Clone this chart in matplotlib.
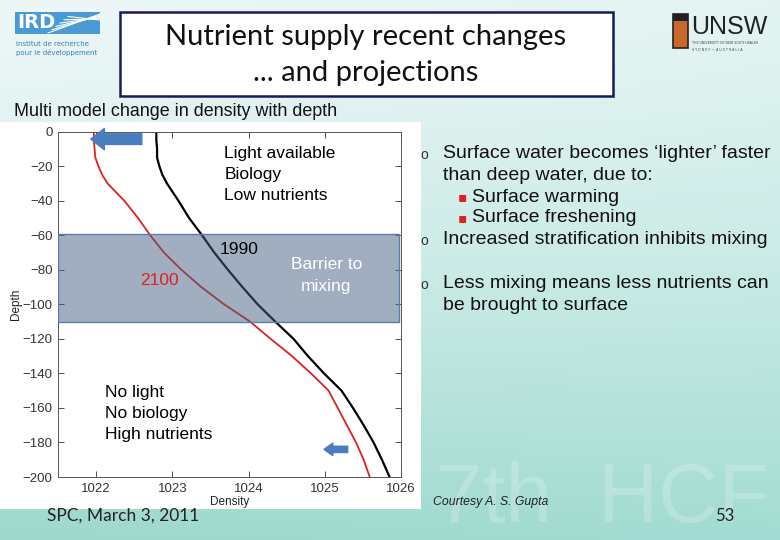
import numpy as np
import matplotlib
matplotlib.use("Agg")
import matplotlib.pyplot as plt
from matplotlib.patches import Rectangle

# ---------------- data ----------------
depth = [0, -5, -10, -15, -20, -25, -30, -40, -50, -60, -70, -80, -90, -100,
         -110, -120, -130, -140, -150, -160, -170, -180, -190, -200]
density_1990 = [1022.79, 1022.79, 1022.80, 1022.80, 1022.83, 1022.87, 1022.93,
                1023.08, 1023.22, 1023.39, 1023.55, 1023.73, 1023.92, 1024.12,
                1024.35, 1024.59, 1024.78, 1024.99, 1025.22, 1025.37, 1025.51,
                1025.64, 1025.75, 1025.85]
density_2100 = [1021.97, 1021.97, 1021.98, 1021.99, 1022.03, 1022.08, 1022.15,
                1022.37, 1022.55, 1022.71, 1022.89, 1023.12, 1023.38, 1023.68,
                1024.02, 1024.29, 1024.57, 1024.82, 1025.05, 1025.17, 1025.29,
                1025.41, 1025.51, 1025.59]
barrier_top, barrier_bottom = -59, -110
x_ticks = [1022, 1023, 1024, 1025, 1026]
y_ticks = [0, -20, -40, -60, -80, -100, -120, -140, -160, -180, -200]

title_lines = ["Nutrient supply recent changes", "... and projections"]
subtitle = "Multi model change in density with depth"
upper_lines = ["Light available", "Biology", "Low nutrients"]
lower_lines = ["No light", "No biology", "High nutrients"]
barrier_lines = ["Barrier to", "mixing"]
bullets = [
    ("o", "Surface water becomes \u2018lighter\u2019 faster", 0),
    ("", "than deep water, due to:", 0),
    ("\u25aa", "Surface warming", 1),
    ("\u25aa", "Surface freshening", 1),
    ("o", "Increased stratification inhibits mixing", 0),
    ("o", "Less mixing means less nutrients can", 0),
    ("", "be brought to surface", 0),
]
bullet_y = [154, 175, 197, 218, 240, 284, 305]

W, H = 780, 540
fig = plt.figure(figsize=(7.8, 5.4), dpi=100)

def fx(x):
    return x / W

def fy(y):
    return 1 - y / H

# ---------------- background ----------------
bg = fig.add_axes([0, 0, 1, 1])
bg.set_axis_off()
yy, xx = np.mgrid[0:1:270j, 0:1:390j]
tl = np.array([238, 247, 248]) / 255
tr = np.array([226, 244, 242]) / 255
bl = np.array([158, 216, 205]) / 255
br = np.array([162, 220, 210]) / 255
t = (yy ** 1.3)[..., None]
s = xx[..., None]
img = (1 - t) * ((1 - s) * tl + s * tr) + t * ((1 - s) * bl + s * br)
bg.imshow(img, extent=[0, W, H, 0], aspect="auto", zorder=0)
bg.set_xlim(0, W)
bg.set_ylim(H, 0)

# faint watermark
bg.text(436, 539, "7th  HCF", fontsize=60, family="Liberation Sans",
        color="white", alpha=0.2, ha="left", va="bottom", zorder=1)

# white chart panel
bg.add_patch(Rectangle((0, 122), 421, 387, facecolor="white", edgecolor="none", zorder=2))

# title box
bg.add_patch(Rectangle((120, 12), 493, 84, facecolor="white", edgecolor="#1a1a5a",
                       linewidth=1.8, zorder=2))
bg.text(366, 37, title_lines[0], fontsize=21, family="Lato", ha="center", va="center",
        color="#111111", zorder=3)
bg.text(366, 73, title_lines[1], fontsize=21, family="Lato", ha="center", va="center",
        color="#111111", zorder=3)

# subtitle
bg.text(14, 112, subtitle, fontsize=12.9, family="Liberation Sans", ha="left",
        va="center", color="#111111", zorder=3)

# IRD logo (approximation)
bg.add_patch(Rectangle((15, 12), 85, 22, facecolor="#4a9ad6", edgecolor="none", zorder=2))
for i in range(6):
    bg.plot([48 + i * 4, 100], [33 - i * 3.3, 14 + i * 1.2], color="white", lw=0.8, zorder=3)
bg.text(17, 23, "IRD", fontsize=14, family="DejaVu Sans", color="white",
        fontweight="bold", ha="left", va="center", zorder=4)
bg.text(16, 44, "Institut de recherche", fontsize=5, color="#3a7fb8", ha="left", va="center", zorder=3)
bg.text(16, 52, "pour le d\u00e9veloppement", fontsize=5, color="#3a7fb8", ha="left", va="center", zorder=3)

# UNSW logo (approximation)
bg.add_patch(Rectangle((673, 14), 15, 34, facecolor="#c8682a", edgecolor="#222222",
                       linewidth=1.2, zorder=2))
bg.add_patch(Rectangle((673, 14), 15, 7, facecolor="#222222", edgecolor="none", zorder=3))
bg.text(691, 27, "UNSW", fontsize=18, family="Liberation Sans",
        color="#222222", ha="left", va="center", zorder=3)
bg.text(692, 43, "THE UNIVERSITY OF NEW SOUTH WALES", fontsize=2.3, color="#444444",
        ha="left", va="center", zorder=3)
bg.text(692, 50, "S Y D N E Y  \u2022  A U S T R A L I A", fontsize=2.3, color="#444444",
        ha="left", va="center", zorder=3)

# right-hand bullets
for (mark, txt, lvl), y in zip(bullets, bullet_y):
    if lvl == 0:
        if mark:
            bg.text(420, y + 1, mark, fontsize=10, family="Liberation Sans", color="#333333",
                    ha="left", va="center", zorder=3)
        bg.text(443, y, txt, fontsize=14, family="Liberation Sans", color="#111111",
                ha="left", va="center", zorder=3)
    else:
        bg.text(458, y, mark, fontsize=10, family="DejaVu Sans", color="#e02020",
                ha="left", va="center", zorder=3)
        bg.text(472, y, txt, fontsize=14, family="Liberation Sans", color="#111111",
                ha="left", va="center", zorder=3)

# footer
bg.text(433, 502, "Courtesy A. S. Gupta", fontsize=8.8, family="Liberation Sans",
        style="italic", color="#222222", ha="left", va="center", zorder=3)
bg.text(47, 516, "SPC, March 3, 2011", fontsize=12.5, family="Lato", color="#222222",
        ha="left", va="center", zorder=3)
bg.text(725, 516, "53", fontsize=12, family="Lato", color="#222222",
        ha="center", va="center", zorder=3)

# ---------------- chart ----------------
ax = fig.add_axes([fx(58), fy(477), fx(401) - fx(58), fy(131.7) - fy(477)])
ax.set_facecolor("white")
ax.plot(density_1990, depth, color="black", lw=1.6, zorder=2)
ax.plot(density_2100, depth, color="#e02020", lw=1.3, zorder=2)
ax.axhspan(barrier_bottom, barrier_top, xmin=0, xmax=0.995,
           facecolor=(0.27, 0.37, 0.51, 0.5), edgecolor="#5a7fae", lw=1.0, zorder=3)

ax.set_xlim(1021.5, 1026.0)
ax.set_ylim(-200, 0)
ax.set_xticks(x_ticks)
ax.set_yticks(y_ticks)
ax.set_yticklabels([str(v).replace("-", "\u2212") for v in y_ticks])
ax.tick_params(direction="in", length=4, width=0.6, top=True, right=True,
               labelsize=9.5, colors="#333333", pad=4)
for lab in ax.get_xticklabels() + ax.get_yticklabels():
    lab.set_family("Liberation Sans")
for sp in ax.spines.values():
    sp.set_color("#555555")
    sp.set_linewidth(0.7)
ax.set_xlabel("Density", fontsize=8.5, family="Liberation Sans", labelpad=1, color="#222222")
ax.set_ylabel("Depth", fontsize=8.5, family="Liberation Sans", labelpad=0, color="#222222")


def py(ypx):
    return -(ypx - 131.7) / 1.727


fs = 12.5
for line, ypx in zip(upper_lines, [154, 175, 196]):
    ax.text(1023.68, py(ypx), line, fontsize=fs, family="Liberation Sans",
            ha="left", va="center", zorder=4)
for line, ypx in zip(lower_lines, [393, 414, 435]):
    ax.text(1022.12, py(ypx), line, fontsize=fs, family="Liberation Sans",
            ha="left", va="center", zorder=4)
for line, ypx in zip(barrier_lines, [265, 287]):
    ax.text(1025.02, py(ypx), line, fontsize=fs, family="Liberation Sans",
            ha="center", va="center", color="white", zorder=4)
ax.text(1023.62, py(250), "1990", fontsize=fs, family="Liberation Sans", ha="left",
        va="center", color="black", zorder=4)
ax.text(1022.58, py(281), "2100", fontsize=fs, family="Liberation Sans", ha="left",
        va="center", color="#e02020", zorder=4)

arrow_col = "#4a7cc0"
ax.annotate("", xy=(1021.93, -4.3), xytext=(1022.6, -4.3),
            arrowprops=dict(arrowstyle="simple,head_width=1.1,head_length=0.7,tail_width=0.55",
                            color=arrow_col, mutation_scale=14, shrinkA=0, shrinkB=0), zorder=5)
ax.annotate("", xy=(1024.99, -184), xytext=(1025.3, -184),
            arrowprops=dict(arrowstyle="simple,head_width=1.0,head_length=0.7,tail_width=0.5",
                            color=arrow_col, mutation_scale=9, shrinkA=0, shrinkB=0), zorder=5)

fig.savefig("out.png", dpi=100)
